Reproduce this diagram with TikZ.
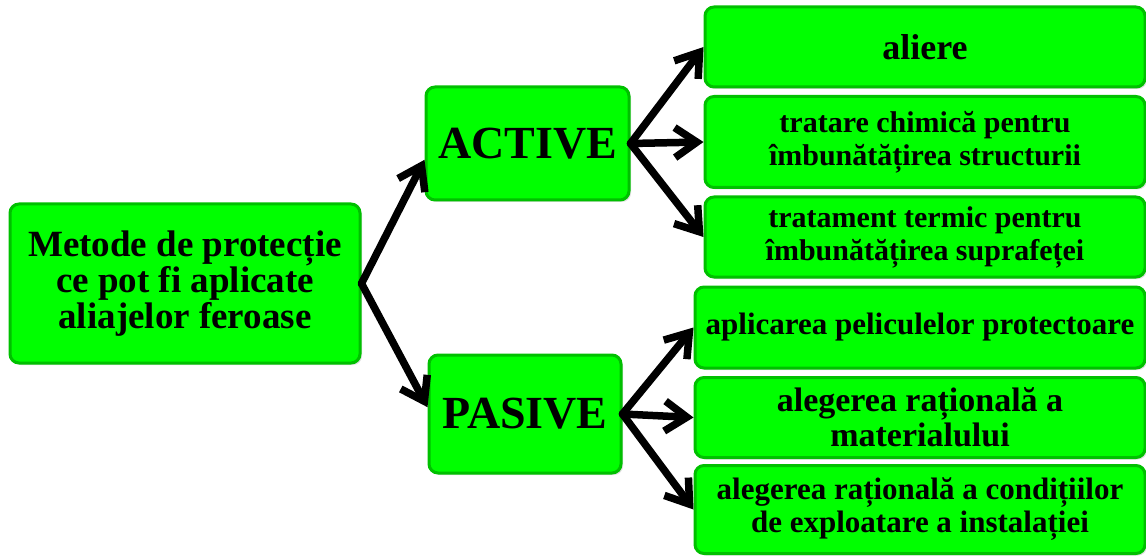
\documentclass[tikz,border=0pt]{standalone}
\usepackage{fontspec}
\setmainfont{Liberation Serif}
\usetikzlibrary{arrows.meta,positioning,shadows}
\definecolor{boxgreen}{RGB}{0,255,0}
\definecolor{edgegreen}{RGB}{0,192,0}

\begin{document}
\begin{tikzpicture}[x=1pt, y=-1pt, node distance={95pt},
    box/.style = {draw=edgegreen, fill=boxgreen, line width=3pt, rounded corners=9pt,
        align=center, inner sep=0pt,
        drop shadow={shadow xshift=2pt, shadow yshift=-2pt, opacity=0.25}},
    arr/.style = {line width=7.5pt, line cap=round, -{Straight Barb[length=22pt,width=30pt]}}]
    \useasboundingbox (0,0) rectangle (1146,556);

    \node[box, minimum width=350pt, minimum height=159pt,
        font=\bfseries\fontsize{37}{36}\selectfont] (metode) at (185,283.5)
        {Metode de protecție\\ce pot fi aplicate\\aliajelor feroase};
    \node[box, minimum width=203pt, minimum height=113pt,
        font=\bfseries\fontsize{46}{46}\selectfont] (active) at (527.5,143.5) {ACTIVE};
    \node[box, minimum width=192pt, minimum height=118pt,
        font=\bfseries\fontsize{46}{46}\selectfont] (pasive) at (525,414) {PASIVE};

    % metode active
    \node[box, minimum width=440pt, minimum height=80pt,
        font=\bfseries\fontsize{36}{36}\selectfont] (aliere) at (925,47) {aliere};
    \node[box, minimum width=440pt, minimum height=91pt,
        font=\bfseries\fontsize{30}{33}\selectfont] (chimic) [below of=aliere]
        {tratare chimică pentru\\îmbunătățirea structurii};
    \node[box, minimum width=440pt, minimum height=80pt,
        font=\bfseries\fontsize{30}{33}\selectfont] (termic) [below of=chimic]
        {tratament termic pentru\\îmbunătățirea suprafeței};

    % metode pasive
    \node[box, minimum width=450pt, minimum height=81pt,
        font=\bfseries\fontsize{31}{33}\selectfont] (pelicule) at (920,327.5)
        {aplicarea peliculelor protectoare};
    \node[box, minimum width=450pt, minimum height=80pt,
        font=\bfseries\fontsize{34}{35}\selectfont] (material) [node distance=90pt, below of=pelicule]
        {alegerea rațională a\\materialului};
    \node[box, minimum width=450pt, minimum height=88pt,
        font=\bfseries\fontsize{31}{33}\selectfont] (conditii) [node distance=92pt, below of=material]
        {alegerea rațională a condițiilor\\de exploatare a instalației};

    \draw[arr] (metode.east) -- (active.189);
    \draw[arr] (metode.east) -- (pasive.176);

    \draw[arr] (active.east) -- (aliere.west);
    \draw[arr] (active.east) -- (chimic.west);
    \draw[arr] (active.east) -- (termic.west);

    \draw[arr] (pasive.east) -- (pelicule.west);
    \draw[arr] (pasive.east) -- (material.west);
    \draw[arr] (pasive.east) -- (conditii.west);
\end{tikzpicture}
\end{document}
